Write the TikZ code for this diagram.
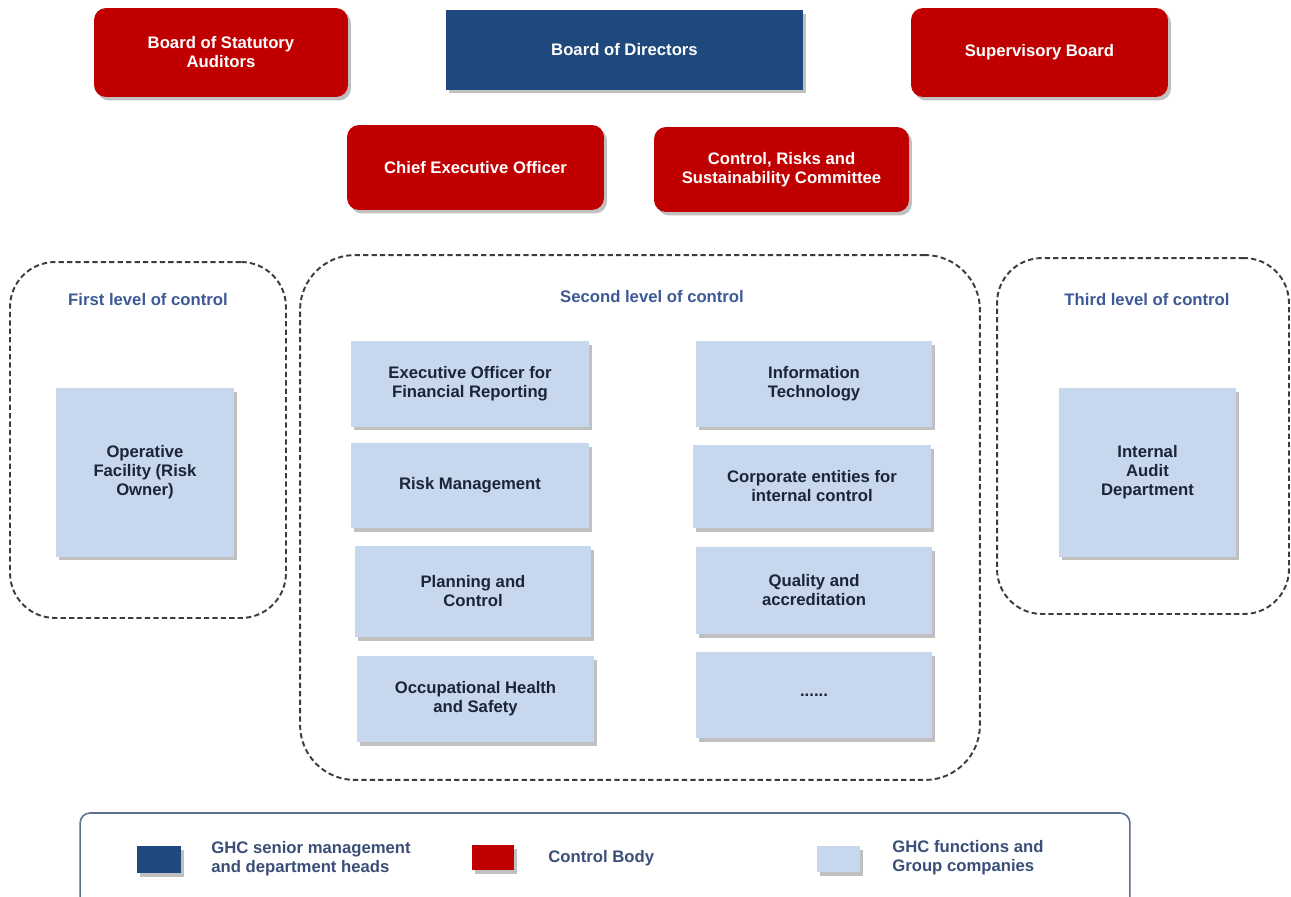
\documentclass[tikz,border=0pt]{standalone}
\usepackage{fontspec}
\setmainfont{Liberation Sans}
\usetikzlibrary{shadows}
\definecolor{ctrlred}{HTML}{C00000}
\definecolor{mgmtblue}{HTML}{1F497D}
\definecolor{funclight}{HTML}{C6D7EE}
\definecolor{textnavy}{HTML}{1C2438}
\definecolor{titleblue}{HTML}{3D5A96}
\definecolor{legtext}{HTML}{3A4E78}
\definecolor{dashgray}{HTML}{3C3C3C}
\definecolor{legframe}{HTML}{5C6F8E}
\tikzset{
  shad/.style={drop shadow={shadow xshift=0.06cm, shadow yshift=-0.07cm, opacity=0.35, fill=black!70}},
  boxfont/.style={font=\bfseries\fontsize{9.5}{10.8}\selectfont, align=center},
  redbox/.style={boxfont, shad, fill=ctrlred, text=white, rounded corners=0.24cm, inner sep=2pt},
  bluebox/.style={boxfont, shad, fill=mgmtblue, text=white, inner sep=2pt},
  funcbox/.style={boxfont, shad, fill=funclight, text=textnavy, inner sep=2pt},
  levelbox/.style={draw=dashgray, line width=1.1pt, dash pattern=on 3pt off 1.8pt, rounded corners=0.9cm},
  leveltitle/.style={font=\bfseries\fontsize{9.5}{10.8}\selectfont, text=titleblue},
  legtxt/.style={font=\bfseries\fontsize{9.5}{10.8}\selectfont, text=legtext, align=left, anchor=west, inner sep=0pt},
  swatch/.style={shad, inner sep=0pt}
}
\begin{document}
\begin{tikzpicture}[x=0.02cm,y=-0.02cm]
\useasboundingbox[fill=white] (0,0) rectangle (1291,896);
% top boards
\node[redbox, minimum width=5.08cm, minimum height=1.78cm] (bsa) at (221,52.5) {Board of Statutory\\Auditors};
\node[bluebox, minimum width=7.14cm, minimum height=1.6cm] (bod) at (624.5,50) {Board of Directors};
\node[redbox, minimum width=5.14cm, minimum height=1.78cm] (sb) at (1039.5,52.5) {Supervisory Board};
\node[redbox, minimum width=5.14cm, minimum height=1.7cm] (ceo) at (475.5,167.5) {Chief Executive Officer};
\node[redbox, minimum width=5.1cm, minimum height=1.7cm] (crsc) at (781.5,169.5) {Control, Risks and\\Sustainability Committee};
% level containers
\node[levelbox, minimum width=5.52cm, minimum height=7.12cm] (lev1) at (148,440) {};
\node[levelbox, rounded corners=1.1cm, minimum width=13.6cm, minimum height=10.5cm] (lev2) at (640,517.5) {};
\node[levelbox, minimum width=5.84cm, minimum height=7.12cm] (lev3) at (1143,436) {};
\node[leveltitle] (t1) at (148,300) {First level of control};
\node[leveltitle] (t2) at (652,297) {Second level of control};
\node[leveltitle] (t3) at (1147,300) {Third level of control};
% first and third level
\node[funcbox, minimum width=3.56cm, minimum height=3.38cm] (ofr) at (145,472.5) {Operative\\Facility (Risk\\Owner)};
\node[funcbox, minimum width=3.56cm, minimum height=3.38cm] (iad) at (1147.5,472.5) {Internal\\Audit\\Department};
% second level, left column
\node[funcbox, minimum width=4.76cm, minimum height=1.72cm] (efr) at (470,384) {Executive Officer for\\Financial Reporting};
\node[funcbox, minimum width=4.76cm, minimum height=1.7cm] (rm) at (470,485.5) {Risk Management};
\node[funcbox, minimum width=4.72cm, minimum height=1.82cm] (pc) at (473,591.5) {Planning and\\Control};
\node[funcbox, minimum width=4.74cm, minimum height=1.72cm] (ohs) at (475.5,699) {Occupational Health\\and Safety};
% second level, right column
\node[funcbox, minimum width=4.72cm, minimum height=1.72cm] (it) at (814,384) {Information\\Technology};
\node[funcbox, minimum width=4.76cm, minimum height=1.66cm] (cei) at (812,486.5) {Corporate entities for\\internal control};
\node[funcbox, minimum width=4.72cm, minimum height=1.74cm] (qa) at (814,590.5) {Quality and\\accreditation};
\node[funcbox, minimum width=4.72cm, minimum height=1.72cm] (etc) at (814,695) {......};
% legend
\node[draw=legframe, line width=0.9pt, rounded corners=0.2cm, minimum width=21cm, minimum height=2.2cm] (leg) at (605,868) {};
\node[swatch, fill=mgmtblue, minimum width=0.88cm, minimum height=0.54cm] (sw1) at (159,859.5) {};
\node[swatch, fill=ctrlred, minimum width=0.84cm, minimum height=0.5cm] (sw2) at (493,857.5) {};
\node[swatch, fill=funclight, minimum width=0.86cm, minimum height=0.52cm] (sw3) at (838.5,859) {};
\node[legtxt] (lt1) at (211,859) {GHC senior management\\and department heads};
\node[legtxt] (lt2) at (548,858) {Control Body};
\node[legtxt] (lt3) at (892,858) {GHC functions and\\Group companies};
\end{tikzpicture}
\end{document}
